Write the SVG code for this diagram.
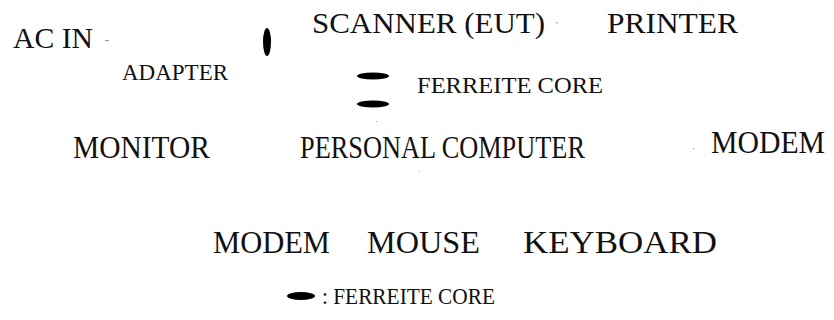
<svg xmlns="http://www.w3.org/2000/svg" width="834" height="320" viewBox="0 0 834 320">
  <style>
    .lbl { font-family: "Liberation Serif", "Times New Roman", serif; fill: #111; }
    .big { font-size: 32px; }
    .top { font-size: 30px; }
    .small { font-size: 23px; }
    .core { fill: #000; }
    .speck { fill: #999; }
  </style>
  <rect width="834" height="320" fill="#fff"/>

  <g id="ac-in"><text class="lbl top" x="13" y="48" textLength="80" lengthAdjust="spacingAndGlyphs">AC IN</text></g>
  <g id="adapter"><text class="lbl small" x="122" y="80" textLength="106" lengthAdjust="spacingAndGlyphs">ADAPTER</text></g>
  <g id="scanner"><text class="lbl top" x="312" y="33" textLength="233" lengthAdjust="spacingAndGlyphs">SCANNER (EUT)</text></g>
  <g id="printer"><text class="lbl top" x="607" y="33" textLength="131" lengthAdjust="spacingAndGlyphs">PRINTER</text></g>
  <g id="ferrite-label"><text class="lbl small" x="417" y="93" textLength="186" lengthAdjust="spacingAndGlyphs">FERREITE CORE</text></g>
  <g id="monitor"><text class="lbl big" x="73" y="158" textLength="137" lengthAdjust="spacingAndGlyphs">MONITOR</text></g>
  <g id="pc"><text class="lbl big" x="300" y="158" textLength="285" lengthAdjust="spacingAndGlyphs">PERSONAL COMPUTER</text></g>
  <g id="modem-right"><text class="lbl big" x="711" y="153" textLength="114" lengthAdjust="spacingAndGlyphs">MODEM</text></g>
  <g id="modem"><text class="lbl big" x="213" y="253" textLength="117" lengthAdjust="spacingAndGlyphs">MODEM</text></g>
  <g id="mouse"><text class="lbl big" x="367" y="253" textLength="113" lengthAdjust="spacingAndGlyphs">MOUSE</text></g>
  <g id="keyboard"><text class="lbl big" x="523" y="253" textLength="194" lengthAdjust="spacingAndGlyphs">KEYBOARD</text></g>

  <!-- ferrite cores on the cables -->
  <g id="connectors">
    <ellipse class="core" cx="267" cy="42" rx="4" ry="14"/>
    <ellipse class="core" cx="373" cy="76" rx="16" ry="3.5"/>
    <ellipse class="core" cx="373" cy="104" rx="16" ry="3.5"/>
  </g>

  <!-- legend -->
  <g id="legend">
    <ellipse class="core" cx="301" cy="296" rx="14" ry="4"/>
    <text class="lbl small" x="322" y="304" textLength="173" lengthAdjust="spacingAndGlyphs">: FERREITE CORE</text>
  </g>

  <!-- stray specks -->
  <rect class="speck" x="105" y="40" width="4" height="1.2"/>
  <rect class="speck" x="556" y="22" width="1.5" height="1.5"/>
  <rect class="speck" x="376" y="121" width="1" height="1"/>
  <rect class="speck" x="693" y="148" width="1.2" height="1.2"/>
  <rect class="speck" x="419" y="171" width="1" height="1"/>
</svg>
